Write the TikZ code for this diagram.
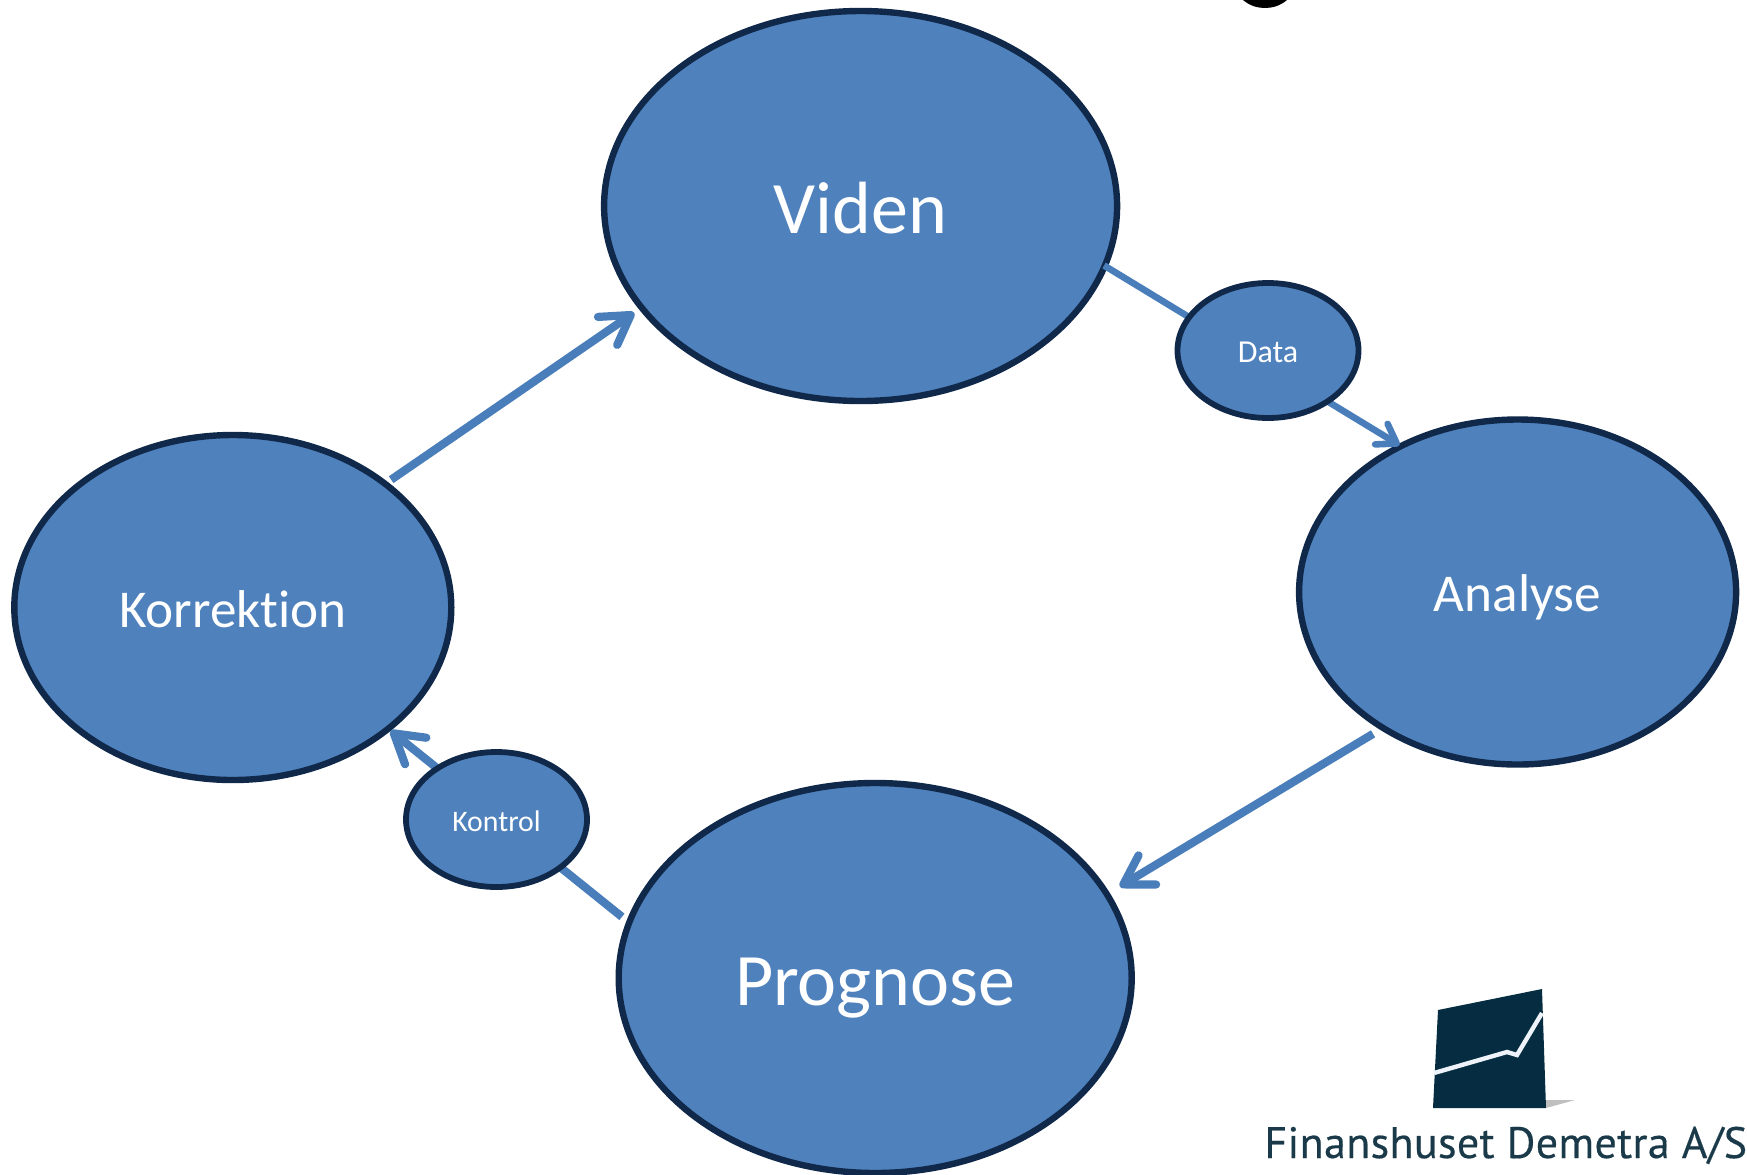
\documentclass[tikz,border=0pt]{standalone}
\usepackage{fontspec}
\setmainfont{Carlito}[Ligatures=CommonOff]
\newfontfamily\logofont[FakeBold=0.4,LetterSpace=0.8]{PT Sans}
\usetikzlibrary{shapes.geometric,arrows.meta}
\definecolor{fillblue}{HTML}{4F81BD}
\definecolor{edgeblue}{HTML}{10294A}
\definecolor{linkblue}{HTML}{4A7EBB}
\definecolor{logodark}{HTML}{052C40}
\definecolor{logotxt}{HTML}{1A3A4A}
\tikzset{
  bubble/.style={ellipse,draw=edgeblue,fill=fillblue,line width=3.2pt,inner sep=0pt,text=white,align=center},
  big/.style={bubble,minimum width=256.5pt,minimum height=195pt,text height=27.6pt,text depth=0pt,font=\fontsize{37}{40}\selectfont},
  mid/.style={bubble,minimum width=218.5pt,minimum height=172.5pt,text height=19.5pt,text depth=0pt,font=\fontsize{26.6}{30}\selectfont},
  small/.style={bubble,line width=2.9pt,minimum width=90.5pt,minimum height=67.5pt,text height=12pt,text depth=0pt},
  link/.style={draw=linkblue,line width=4.1pt},
  tip/.style={-{Straight Barb[length=14pt,width=17pt,line width=4.1pt,round]}},
  smalltip/.style={-{Straight Barb[length=9pt,width=12pt,line width=3.3pt,round]}}
}
\begin{document}
\begin{tikzpicture}[x=0.5pt,y=-0.5pt]
\useasboundingbox (0,0) rectangle (1747,1174);
\fill[black] (1243,0) .. controls (1250,6) and (1258,8) .. (1265,8) .. controls (1272,8) and (1280,6) .. (1287,0) -- cycle;
\node[big] (viden) at (860.6,206) {Viden};
\node[big] (prognose) at (875.2,978) {Prognose};
\node[mid] (analyse) at (1517.6,592) {Analyse};
\node[mid] (korrektion) at (232.8,607.5) {Korrektion};
\draw[link,smalltip,line width=3.3pt,shorten <=-2pt,shorten >=-1pt] (viden.-14) -- (analyse.129);
\draw[link,tip,shorten <=4pt,shorten >=6pt] (analyse.225) -- (prognose.20);
\draw[link,tip,shorten <=3pt,shorten >=0pt] (prognose.167) -- (korrektion.-38);
\draw[link,tip,shorten <=2pt,shorten >=3pt] (korrektion.39) -- (viden.205);
\node[small,font=\fontsize{16}{18}\selectfont] (data) at (1268,350.5) {Data};
\node[small,font=\fontsize{14.9}{18}\selectfont] (kontrol) at (496.5,819.5) {Kontrol};
% logo
\fill[gray!50] (1546,1100) -- (1575,1100) -- (1546,1108) -- cycle;
\fill[logodark] (1438,1010) -- (1542,989) -- (1546,1108) -- (1433,1108) -- cycle;
\draw[white!90!fillblue,line width=2.2pt] (1434,1073) -- (1507,1052) -- (1517,1055) -- (1542,1013);
\node[anchor=base west,inner sep=0pt,text=logotxt,font=\logofont\fontsize{22}{26}\selectfont] (logotext) at (1264,1158) {Finanshuset Demetra A/S};
\end{tikzpicture}
\end{document}
